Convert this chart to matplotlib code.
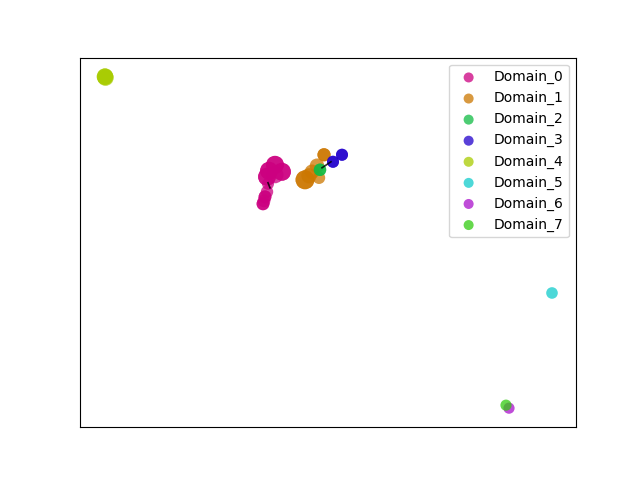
import matplotlib
matplotlib.use("Agg")
import matplotlib.pyplot as plt

domains = ["Domain_0", "Domain_1", "Domain_2", "Domain_3",
           "Domain_4", "Domain_5", "Domain_6", "Domain_7"]
colors = ["#CC0080", "#CC7700", "#11BB44", "#2200CC",
          "#A8CC00", "#11CCCC", "#AA11CC", "#33CC11"]

# embedding coordinates per domain
xs = [
    [-10.6, -11.8, -9.2, -12.2, -10.6, -10.6, -11.8, -9.2, -12.2,
     -12.0, -12.2, -12.6, -12.8, -13.0, -12.6, -13.0],
    [-4.6, -4.6, -0.8, -2.2, -3.2, -1.8, -3.8, -0.8],
    [-1.6, -1.6],
    [1.0, 1.0, 2.8, 2.8],
    [-44.6, -44.6, -44.5],
    [44.8],
    [36.2],
    [35.6],
]
ys = [
    [15.4, 14.2, 14.0, 13.0, 13.4, 15.4, 14.2, 14.0, 13.0,
     11.6, 10.0, 9.0, 8.2, 7.6, 9.0, 7.6],
    [12.4, 12.4, 17.4, 15.2, 14.0, 12.8, 13.2, 17.4],
    [14.4, 14.4],
    [16.0, 16.0, 17.4, 17.4],
    [33.0, 33.0, 32.8],
    [-10.2],
    [-33.2],
    [-32.6],
]
sizes = [
    [165, 165, 165, 165, 150, 165, 165, 165, 165,
     75, 80, 85, 85, 85, 85, 85],
    [185, 185, 90, 110, 110, 80, 120, 90],
    [80, 80],
    [75, 75, 75, 75],
    [140, 140, 140],
    [70],
    [65],
    [65],
]

# short transition segments
seg_x = [[-1.2, 0.6], [-12.0, -11.6]]
seg_y = [[14.8, 16.0], [11.8, 10.8]]

fig, ax = plt.subplots(figsize=(6.4, 4.8))
for name, color, x, y, s in zip(domains, colors, xs, ys, sizes):
    ax.scatter(x, y, s=s, color=color, alpha=0.75, label=name, edgecolors="none")
for sx, sy in zip(seg_x, seg_y):
    ax.plot(sx, sy, color="black", linewidth=1.2, alpha=0.8)

ax.set_xlim(-49.6, 49.6)
ax.set_ylim(-37.0, 36.8)
ax.set_xticks([])
ax.set_yticks([])
leg = ax.legend(loc="upper right")
for handle in leg.legend_handles:
    handle.set_sizes([52])
fig.savefig("out.png", dpi=100)
